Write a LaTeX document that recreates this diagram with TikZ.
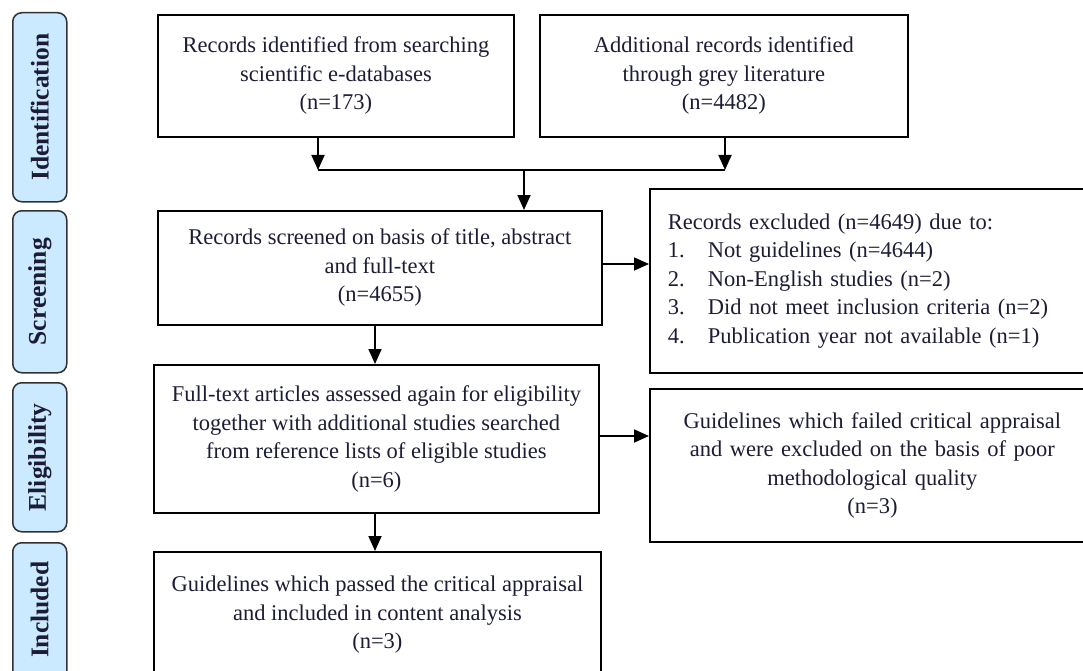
\documentclass[tikz,border=0pt]{standalone}
\usepackage{fontspec}
\setmainfont{Liberation Serif}
\usetikzlibrary{arrows.meta}
\definecolor{txt}{RGB}{28,28,52}
\definecolor{stagefill}{RGB}{204,234,255}
\definecolor{stageline}{RGB}{50,50,50}
\tikzset{
  box/.style={draw=black, line width=1.8pt, rectangle, anchor=north west, align=center,
    text=txt, font=\fontsize{22.5}{28.5}\selectfont, inner sep=0pt},
  stage/.style={draw=stageline, fill=stagefill, line width=1.5pt, rounded corners=9pt,
    anchor=north west, minimum width=54pt, inner sep=0pt},
  stagetext/.style={rotate=90, text=txt, font=\fontsize{25.5}{30}\bfseries\selectfont},
  arr/.style={line width=1.8pt, -{Triangle[width=13pt,length=15pt]}},
  ln/.style={line width=1.8pt}
}
\begin{document}
\begin{tikzpicture}[x=1pt,y=-1pt]
\useasboundingbox (0,0) rectangle (1083,671);
\clip (0,0) rectangle (1083,671);
% stage labels
\node[stage, minimum height=189pt] (s1) at (12,12) {};
\node[stagetext] at (s1.center) {Identification};
\node[stage, minimum height=162pt] (s2) at (12,210) {};
\node[stagetext] at (s2.center) {Screening};
\node[stage, minimum height=149pt] (s3) at (12,382) {};
\node[stagetext] at (s3.center) {Eligibility};
\node[stage, minimum height=150pt] (s4) at (12,542) {};
\node[stagetext] at ([yshift=8pt]s4.center) {Included};
% boxes
\node[box, minimum width=356pt, minimum height=122pt] (a) at (157,14)
  {Records identified from searching\\scientific e-databases\\(n=173)};
\node[box, minimum width=368pt, minimum height=122pt] (b) at (539,14)
  {Additional records identified\\through grey literature\\(n=4482)};
\node[box, minimum width=444pt, minimum height=114pt] (c) at (157,210)
  {Records screened on basis of title, abstract\\and full-text\\(n=4655)};
\node[box, minimum width=445pt, minimum height=184pt, text width=440pt, align=left, inner xsep=18pt] (d) at (649,188)
  {Records excluded (n=4649) due to:\\
   \makebox[40pt][l]{1.}Not guidelines (n=4644)\\
   \makebox[40pt][l]{2.}Non-English studies (n=2)\\
   \makebox[40pt][l]{3.}Did not meet inclusion criteria (n=2)\\
   \makebox[40pt][l]{4.}Publication year not available (n=1)};
\node[box, minimum width=445pt, minimum height=148pt] (e) at (153,364)
  {Full-text articles assessed again for eligibility\\together with additional studies searched\\from reference lists of eligible studies\\(n=6)};
\node[box, minimum width=445pt, minimum height=153pt, text width=432pt] (f) at (649,388)
  {Guidelines which failed critical appraisal\\and were excluded on the basis of poor\\methodological quality\\(n=3)};
\node[box, minimum width=447pt, minimum height=126pt] (g) at (153,551)
  {Guidelines which passed the critical appraisal\\and included in content analysis\\(n=3)};
% connectors
\coordinate (ja) at (318,170);
\coordinate (jb) at (725,170);
\coordinate (jm) at (524,170);
\draw[arr] (a.south -| ja) -- (ja);
\draw[arr] (b.south -| jb) -- (jb);
\draw[ln] (ja) -- (jb);
\draw[arr] (jm) -- (c.north -| jm);
\draw[arr] (c.east |- 0,264) -- (d.west |- 0,264);
\draw[arr] (c.south -| 375,0) -- (e.north -| 375,0);
\draw[arr] (e.east |- 0,436) -- (f.west |- 0,436);
\draw[arr] (e.south -| 375,0) -- (g.north -| 375,0);
\end{tikzpicture}
\end{document}
